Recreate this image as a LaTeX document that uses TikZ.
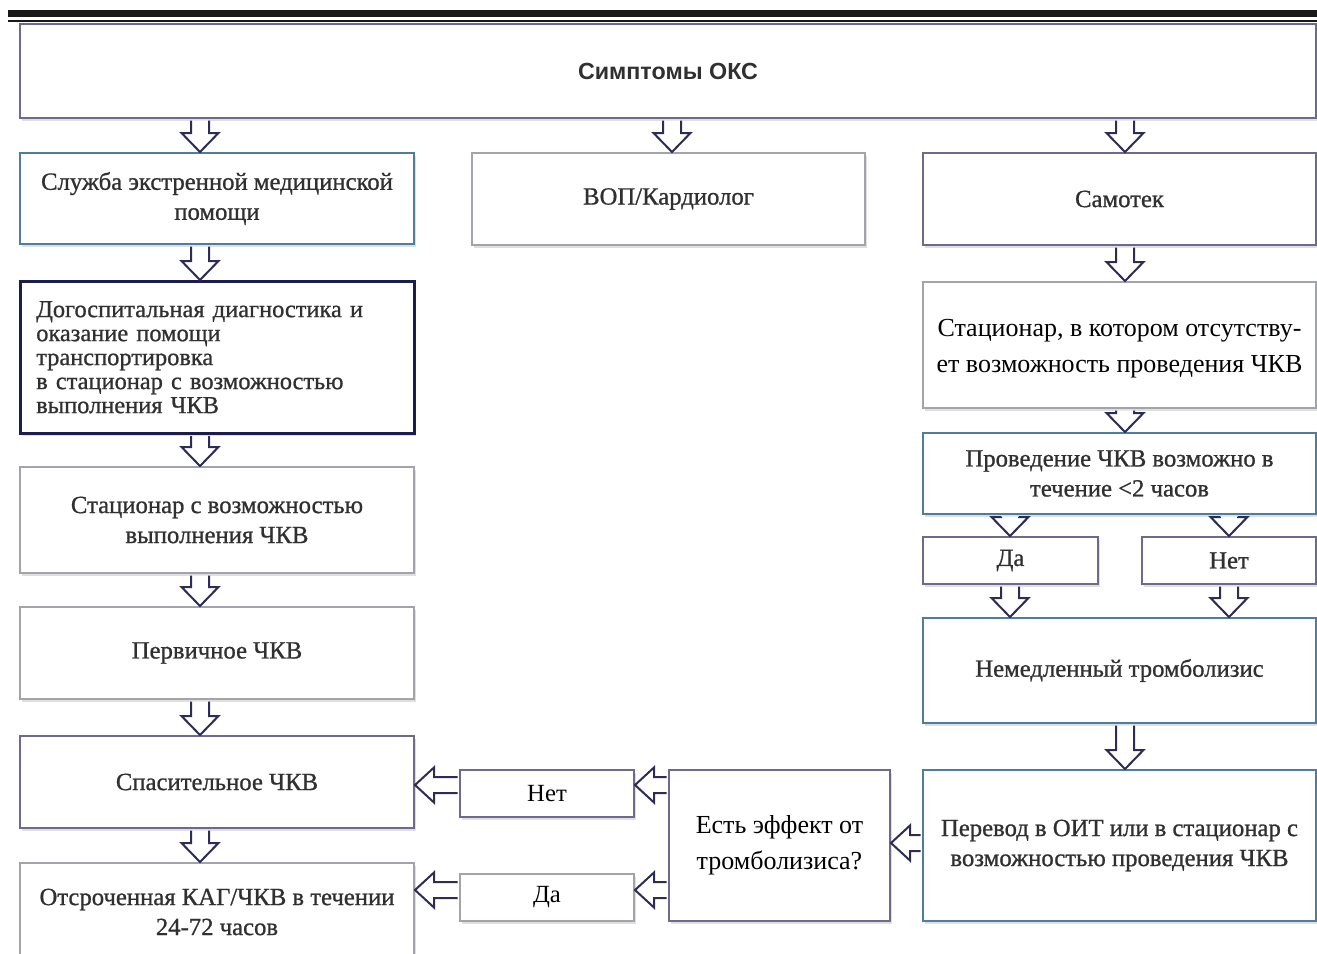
\documentclass[tikz,border=0pt]{standalone}
\usepackage{fontspec}
\setmainfont{Liberation Serif}
\newfontfamily\headfont{Liberation Sans}
\newfontfamily\heavyserif[FakeBold=0.9]{Liberation Serif}
\usetikzlibrary{shadows, calc}

\definecolor{purp}{HTML}{6E6A8E}
\definecolor{boxteal}{HTML}{4F7E9C}
\definecolor{boxgray}{HTML}{A3A3AB}
\definecolor{navy}{HTML}{1D1D4D}
\definecolor{arrline}{HTML}{2C2C55}
\definecolor{txtgray}{HTML}{303030}

\tikzset{
  box/.style={draw=#1, line width=2pt, fill=white, anchor=north west, inner sep=0pt,
    align=center, drop shadow={shadow xshift=1.5pt, shadow yshift=-2.5pt, opacity=.25}},
  lbl/.style={font=\heavyserif\fontsize{24.7}{30}\selectfont, text=txtgray},
  plain/.style={font=\fontsize{26}{36}\selectfont, text=black},
  small/.style={font=\fontsize{24.7}{30}\selectfont, text=black},
  blockarr/.style={draw=arrline, line width=2pt, fill=white, line join=miter},
}

% hollow block arrows, drawn between two points
\newcommand\downblock[2]{%
  \filldraw[blockarr] let \p1=#1, \p2=#2 in
    (\x2-9pt,\y1-1.5pt) -- (\x2-9pt,\y2+19pt) -- (\x2-18.5pt,\y2+19pt) -- (\x2,\y2)
    -- (\x2+18.5pt,\y2+19pt) -- (\x2+9pt,\y2+19pt) -- (\x2+9pt,\y1-1.5pt);}
\newcommand\leftblock[2]{%
  \filldraw[blockarr] let \p1=#1, \p2=#2 in
    (\x1-1.5pt,\y2+8pt) -- (\x2+19pt,\y2+8pt) -- (\x2+19pt,\y2+17.5pt) -- (\x2,\y2)
    -- (\x2+19pt,\y2-17.5pt) -- (\x2+19pt,\y2-8pt) -- (\x1-1.5pt,\y2-8pt);}

\begin{document}
\begin{tikzpicture}[x=1pt, y=-1pt]
\useasboundingbox (0,0) rectangle (1317,953);

% rule on top
\fill[black!90] (8,10) rectangle (1317,17);
\fill[black!90] (8,20) rectangle (1317,22);

\coordinate (colL) at (200,0);
\coordinate (colM) at (672,0);
\coordinate (colR) at (1125,0);
\coordinate (colYes) at (1010,0);
\coordinate (colNo) at (1229,0);
\coordinate (rowNo) at (0,785);
\coordinate (rowYes) at (0,890);
\coordinate (rowEff) at (0,843);

\path (19,23) node[box=purp, minimum width=1296pt, minimum height=94pt,
        font=\headfont\bfseries\fontsize{23.3}{26}\selectfont, text=txtgray] (symp) {Симптомы ОКС}
      (19,152) node[box=boxteal, lbl, minimum width=394pt, minimum height=91pt] (svc)
        {Служба экстренной медицинской\\помощи}
      (471,152) node[box=boxgray, lbl, minimum width=393pt, minimum height=92pt] (gp) {ВОП/Кардиолог}
      (922,152) node[box=purp, lbl, minimum width=393pt, minimum height=92pt] (self) {Самотек};

% left column
\path (19,280) node[box=navy, line width=2.5pt, minimum width=394pt, minimum height=152pt,
        font=\heavyserif\fontsize{24.4}{24}\selectfont, text=txtgray, align=left, text width=362pt] (prehosp)
        {Догоспитальная диагностика и\\оказание помощи\\транспортировка\\в стационар с возможностью\\выполнения ЧКВ}
      (19,466) node[box=boxgray, lbl, minimum width=394pt, minimum height=106pt] (pci)
        {Стационар с возможностью\\выполнения ЧКВ}
      (19,606) node[box=boxgray, lbl, minimum width=394pt, minimum height=92pt] (prim) {Первичное ЧКВ}
      (19,735) node[box=purp, lbl, minimum width=394pt, minimum height=92pt] (resc) {Спасительное ЧКВ}
      (19,862) node[box=boxgray, lbl, minimum width=394pt, minimum height=98pt] (late)
        {Отсроченная КАГ/ЧКВ в течении\\24-72 часов};

% right column
\path (922,281) node[box=boxgray, plain, minimum width=393pt, minimum height=126pt] (nopci)
        {\strut Стационар, в котором отсутству-\\ет возможность проведения ЧКВ}
      (922,432) node[box=boxteal, lbl, minimum width=393pt, minimum height=81pt] (win)
        {Проведение ЧКВ возможно в\\течение <2 часов}
      (922,536) node[box=purp, lbl, minimum width=175pt, minimum height=47pt] (yes1) {Да}
      (1141,536) node[box=purp, lbl, minimum width=174pt, minimum height=47pt] (no1) {Нет}
      (922,617) node[box=boxteal, lbl, minimum width=393pt, minimum height=105pt] (lysis)
        {Немедленный тромболизис}
      (922,769) node[box=boxteal, lbl, minimum width=393pt, minimum height=151pt] (trans)
        {Перевод в ОИТ или в стационар с\\возможностью проведения ЧКВ};

% bottom middle
\path (668,769) node[box=purp, plain, minimum width=221pt, minimum height=151pt] (eff)
        {Есть эффект от\\тромболизиса?}
      (459,769) node[box=purp, small, minimum width=174pt, minimum height=47pt] (no2) {Нет}
      (459,873) node[box=boxgray, small, minimum width=174pt, minimum height=47pt] (yes2) {Да};

\downblock{(symp.south -| colL)}{(svc.north -| colL)}
\downblock{(symp.south -| colM)}{(gp.north -| colM)}
\downblock{(symp.south -| colR)}{(self.north -| colR)}
\downblock{(svc.south -| colL)}{(prehosp.north -| colL)}
\downblock{(prehosp.south -| colL)}{(pci.north -| colL)}
\downblock{(pci.south -| colL)}{(prim.north -| colL)}
\downblock{(prim.south -| colL)}{(resc.north -| colL)}
\downblock{(resc.south -| colL)}{(late.north -| colL)}
\downblock{(self.south -| colR)}{(nopci.north -| colR)}
\downblock{(nopci.south -| colR)}{(win.north -| colR)}
\downblock{(win.south -| colYes)}{(yes1.north -| colYes)}
\downblock{(win.south -| colNo)}{(no1.north -| colNo)}
\downblock{(yes1.south -| colYes)}{(lysis.north -| colYes)}
\downblock{(no1.south -| colNo)}{(lysis.north -| colNo)}
\downblock{(lysis.south -| colR)}{(trans.north -| colR)}
\leftblock{(trans.west |- rowEff)}{(eff.east |- rowEff)}
\leftblock{(eff.west |- rowNo)}{(no2.east |- rowNo)}
\leftblock{(no2.west |- rowNo)}{(resc.east |- rowNo)}
\leftblock{(eff.west |- rowYes)}{(yes2.east |- rowYes)}
\leftblock{(yes2.west |- rowYes)}{(late.east |- rowYes)}

\end{tikzpicture}
\end{document}
